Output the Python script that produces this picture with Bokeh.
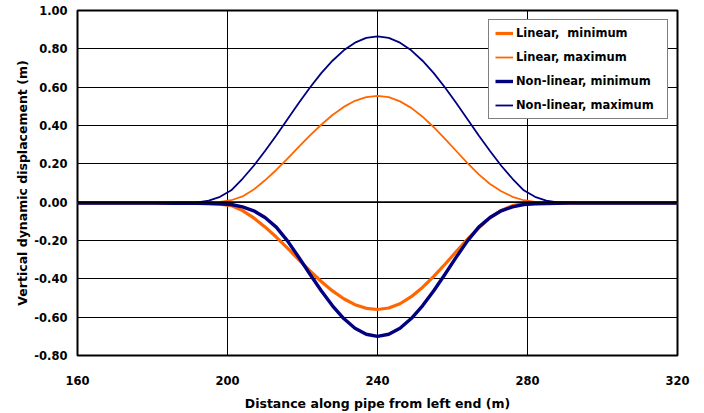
from bokeh.plotting import figure
from bokeh.models import Range1d, FixedTicker, PrintfTickFormatter, Span
from bokeh.embed import file_html
from bokeh.resources import INLINE

# ---- data ----
distance = [160, 170, 180, 186, 189,
            192, 195, 198, 201, 204, 207, 210, 213, 216, 219, 222, 225, 228, 231, 234, 237,
            240,
            243, 246, 249, 252, 255, 258, 261, 264, 267, 270, 273, 276, 279, 282, 285, 288,
            291, 295, 300, 310, 320]

linear_min = [-0.005, -0.005, -0.005, -0.005, -0.005,
              -0.006, -0.007, -0.010, -0.018, -0.044, -0.082, -0.129, -0.182, -0.240, -0.300, -0.359, -0.414, -0.463, -0.504, -0.535, -0.554,
              -0.560,
              -0.552, -0.530, -0.493, -0.445, -0.387, -0.324, -0.258, -0.193, -0.134, -0.082, -0.043, -0.018, -0.008, -0.005, -0.005, -0.005,
              -0.005, -0.005, -0.005, -0.005, -0.005]

linear_max = [-0.005, -0.005, -0.005, -0.005, -0.005,
              -0.004, -0.002, 0.002, 0.010, 0.030, 0.066, 0.114, 0.168, 0.227, 0.288, 0.348, 0.404, 0.455, 0.497, 0.529, 0.548,
              0.555,
              0.548, 0.526, 0.492, 0.446, 0.391, 0.330, 0.267, 0.204, 0.145, 0.095, 0.057, 0.028, 0.010, 0.001, -0.003, -0.004,
              -0.005, -0.005, -0.005, -0.005, -0.005]

nonlinear_min = [-0.005, -0.005, -0.005, -0.006, -0.006,
                 -0.006, -0.007, -0.009, -0.012, -0.025, -0.045, -0.080, -0.130, -0.202, -0.287, -0.376, -0.462, -0.541, -0.607, -0.658, -0.689,
                 -0.700,
                 -0.689, -0.658, -0.607, -0.541, -0.462, -0.376, -0.287, -0.202, -0.130, -0.080, -0.045, -0.025, -0.012, -0.009, -0.007, -0.006,
                 -0.005, -0.005, -0.005, -0.005, -0.005]

nonlinear_max = [-0.005, -0.005, -0.005, -0.004, -0.003,
                 -0.001, 0.008, 0.028, 0.062, 0.122, 0.190, 0.267, 0.348, 0.433, 0.517, 0.598, 0.673, 0.738, 0.792, 0.832, 0.857,
                 0.865,
                 0.857, 0.832, 0.792, 0.738, 0.673, 0.598, 0.517, 0.433, 0.348, 0.267, 0.190, 0.122, 0.062, 0.028, 0.008, -0.001,
                 -0.003, -0.004, -0.005, -0.005, -0.005]

x_ticks = [160, 200, 240, 280, 320]
y_ticks = [-0.8, -0.6, -0.4, -0.2, 0.0, 0.2, 0.4, 0.6, 0.8, 1.0]

series_labels = ["Linear,  minimum", "Linear, maximum", "Non-linear, minimum", "Non-linear, maximum"]

ORANGE = "#FF6600"
NAVY = "#000080"
FONT = "DejaVu Sans"

p = figure(width=704, height=413, output_backend="svg", toolbar_location=None,
           x_range=Range1d(160, 320), y_range=Range1d(-0.8, 1.0),
           min_border_left=77, min_border_right=27, min_border_top=10, min_border_bottom=57,
           background_fill_color="white", border_fill_color="white")

# grid
for g, t in ((p.xgrid, x_ticks), (p.ygrid, y_ticks)):
    g.ticker = FixedTicker(ticks=t)
    g.grid_line_color = "black"
    g.grid_line_width = 1

p.add_layout(Span(location=0, dimension="width", line_color="black", line_width=1.6))

# series (Excel series order)
p.line(distance, linear_min, line_color=ORANGE, line_width=3.2, line_join="round",
       legend_label=series_labels[0])
p.line(distance, linear_max, line_color=ORANGE, line_width=1.8, line_join="round",
       legend_label=series_labels[1])
p.line(distance, nonlinear_min, line_color=NAVY, line_width=3.4, line_join="round",
       legend_label=series_labels[2])
p.line(distance, nonlinear_max, line_color=NAVY, line_width=1.8, line_join="round",
       legend_label=series_labels[3])

# axes
p.xaxis.ticker = FixedTicker(ticks=x_ticks)
p.yaxis.ticker = FixedTicker(ticks=y_ticks)
p.yaxis.formatter = PrintfTickFormatter(format="%.2f")
for ax in (p.xaxis[0], p.yaxis[0]):
    ax.axis_line_color = None
    ax.major_tick_line_color = None
    ax.minor_tick_line_color = None
    ax.major_tick_in = 0
    ax.major_tick_out = 0
    ax.minor_tick_in = 0
    ax.minor_tick_out = 0
    ax.major_label_text_font = FONT
    ax.major_label_text_font_style = "bold"
    ax.major_label_text_font_size = "11.5px"
    ax.major_label_text_color = "black"
    ax.axis_label_text_font = FONT
    ax.axis_label_text_font_style = "bold"
    ax.axis_label_text_font_size = "12.5px"
    ax.axis_label_text_color = "black"

p.xaxis.axis_label = "Distance along pipe from left end (m)"
p.yaxis.axis_label = "Vertical dynamic displacement (m)"
p.xaxis.major_label_standoff = 20
p.xaxis.axis_label_standoff = 8
p.yaxis.major_label_standoff = 10
p.yaxis.axis_label_standoff = 1

p.outline_line_color = "black"
p.outline_line_width = 2

# legend
lg = p.legend[0]
lg.location = "top_right"
lg.margin = 9
lg.padding = 6
lg.spacing = 10
lg.label_height = 14
lg.glyph_height = 14
lg.glyph_width = 18
lg.label_standoff = 3
lg.label_width = 145
lg.label_text_font = FONT
lg.label_text_font_style = "bold"
lg.label_text_font_size = "11.5px"
lg.label_text_color = "black"
lg.border_line_color = "black"
lg.border_line_width = 1
lg.background_fill_color = "white"
lg.background_fill_alpha = 1.0

open("out.html", "w").write(file_html(p, INLINE))
